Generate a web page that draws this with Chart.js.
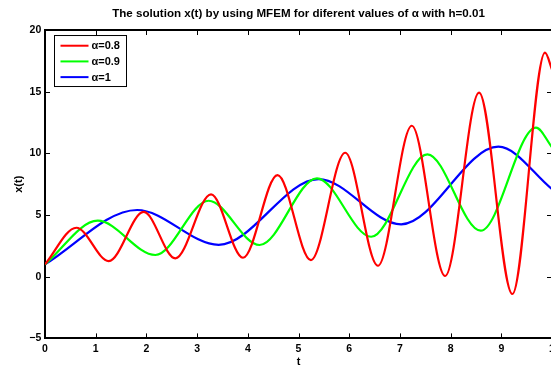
<!DOCTYPE html>
<html>
<head>
<meta charset="utf-8">
<script src="https://cdn.jsdelivr.net/npm/chart.js@4/dist/chart.umd.min.js"></script>
<style>
  html, body { margin: 0; padding: 0; background: #fff; }
  #wrap { width: 551px; height: 367px; overflow: hidden; }
  canvas { display: block; }
</style>
</head>
<body>
<div id="wrap"><canvas id="myChart" width="562" height="367"></canvas></div>
<script>
// Values (peaks and troughs of each curve)
var redT   = [0, 0.062, 0.1257, 0.1947, 0.2571, 0.3275, 0.3905, 0.4587, 0.5245, 0.5921, 0.6566, 0.7235, 0.7892, 0.8562, 0.9218, 0.9862, 1.0];
var redX   = [1, 3.97, 1.27, 5.25, 1.49, 6.68, 1.54, 8.24, 1.35, 10.05, 0.89, 12.24, 0.06, 14.92, -1.40, 18.16, 16.8];
var greenT = [0, 0.104, 0.2177, 0.3228, 0.4232, 0.5364, 0.6433, 0.7543, 0.8595, 0.9685, 1.0];
var greenX = [1, 4.54, 1.76, 6.16, 2.57, 7.98, 3.24, 9.92, 3.73, 12.08, 10.5];
var blueT  = [0, 0.1817, 0.3425, 0.5395, 0.7025, 0.8942, 1.0];
var blueX  = [1, 5.41, 2.59, 7.92, 4.25, 10.54, 7.1];

var seriesLabels = ["\u03b1=0.8", "\u03b1=0.9", "\u03b1=1"];
var seriesColors = ["#ff0000", "#00ff00", "#0000ff"];
var xTickLabels = ["0", "1", "2", "3", "4", "5", "6", "7", "8", "9", "1"];
var yTickLabels = { "-5": "\u22125", "0": "0", "5": "5", "10": "10", "15": "15", "20": "20" };

var FONT = "'Liberation Sans', Arial, Helvetica, sans-serif";

function toPoints(ts, xs) {
  return ts.map(function (t, i) { return { x: t, y: xs[i] }; });
}

// Inward tick marks, top border and the boxed legend, MATLAB style
var matlabBox = {
  id: "matlabBox",
  afterDraw: function (chart) {
    var c = chart.ctx;
    var a = chart.chartArea;
    var xs = chart.scales.x;
    var ys = chart.scales.y;
    var len = 5;
    c.save();
    c.strokeStyle = "#000";
    c.lineWidth = 2;
    c.beginPath();
    c.moveTo(a.left - 1, a.top);
    c.lineTo(a.right, a.top);
    c.moveTo(a.right, a.top);
    c.lineTo(a.right, a.bottom);
    c.stroke();
    c.lineWidth = 1;
    c.beginPath();
    xs.ticks.forEach(function (t) {
      var px = Math.round(xs.getPixelForValue(t.value)) + 0.5;
      c.moveTo(px, a.bottom);
      c.lineTo(px, a.bottom - len);
      c.moveTo(px, a.top);
      c.lineTo(px, a.top + len);
    });
    ys.ticks.forEach(function (t) {
      var py = Math.round(ys.getPixelForValue(t.value)) + 0.5;
      c.moveTo(a.left, py);
      c.lineTo(a.left + len, py);
      c.moveTo(a.right, py);
      c.lineTo(a.right - len, py);
    });
    c.stroke();

    // legend
    var bx = a.left + 9.5, by = a.top + 5.5, bw = 72, bh = 51;
    c.fillStyle = "#fff";
    c.fillRect(bx, by, bw, bh);
    c.strokeStyle = "#000";
    c.lineWidth = 1;
    c.strokeRect(bx, by, bw, bh);
    c.font = "bold 11px " + FONT;
    c.textBaseline = "middle";
    chart.data.datasets.forEach(function (ds, i) {
      var ry = a.top + 15.7 + i * 15.7;
      c.strokeStyle = ds.borderColor;
      c.lineWidth = 2;
      c.beginPath();
      c.moveTo(bx + 6, ry);
      c.lineTo(bx + 34, ry);
      c.stroke();
      c.fillStyle = "#000";
      c.fillText(ds.label, bx + 37, ry + 0.5);
    });
    c.restore();
  }
};

var ctx = document.getElementById("myChart").getContext("2d");
var myChart = new Chart(ctx, {
  type: "line",
  data: {
    datasets: [
      { label: seriesLabels[0], data: toPoints(redT, redX), borderColor: seriesColors[0] },
      { label: seriesLabels[1], data: toPoints(greenT, greenX), borderColor: seriesColors[1] },
      { label: seriesLabels[2], data: toPoints(blueT, blueX), borderColor: seriesColors[2] }
    ]
  },
  options: {
    responsive: false,
    animation: false,
    devicePixelRatio: 1,
    layout: { padding: { left: 13.8, right: 10, top: 0, bottom: 0 } },
    elements: {
      point: { radius: 0 },
      line: { borderWidth: 2.2, cubicInterpolationMode: "monotone", fill: false }
    },
    plugins: {
      legend: { display: false },
      tooltip: { enabled: false },
      title: {
        display: true,
        fullSize: false,
        text: "The solution x(t) by using MFEM for diferent values of \u03b1 with h=0.01",
        color: "#000",
        font: { family: FONT, size: 11.6, weight: "bold", lineHeight: 1.2 },
        padding: { top: 6.5, bottom: 9.6 }
      }
    },
    scales: {
      x: {
        type: "linear",
        min: 0,
        max: 1,
        grid: { display: false, drawTicks: false },
        border: { display: true, color: "#000", width: 2 },
        afterFit: function (s) { s.height = 28.6; },
        ticks: {
          stepSize: 0.1,
          padding: 5.3,
          color: "#000",
          maxRotation: 0,
          autoSkip: false,
          font: { family: FONT, size: 10.5, weight: "bold", lineHeight: 1 },
          callback: function (v, i) { return xTickLabels[i]; }
        },
        title: {
          display: true,
          text: "t",
          color: "#000",
          font: { family: FONT, size: 11, weight: "bold", lineHeight: 1 },
          padding: { top: 0, bottom: 0 }
        }
      },
      y: {
        min: -5,
        max: 20,
        grid: { display: false, drawTicks: false },
        border: { display: true, color: "#000", width: 2 },
        afterFit: function (s) { s.width = 31.2; },
        ticks: {
          stepSize: 5,
          padding: 3.7,
          color: "#000",
          font: { family: FONT, size: 10.5, weight: "bold", lineHeight: 1 },
          callback: function (v) { return yTickLabels[String(v)]; }
        },
        title: {
          display: true,
          text: "x(t)",
          color: "#000",
          font: { family: FONT, size: 11, weight: "bold", lineHeight: 1 },
          padding: { top: 0, bottom: 0 }
        }
      }
    }
  },
  plugins: [matlabBox]
});
</script>
</body>
</html>
